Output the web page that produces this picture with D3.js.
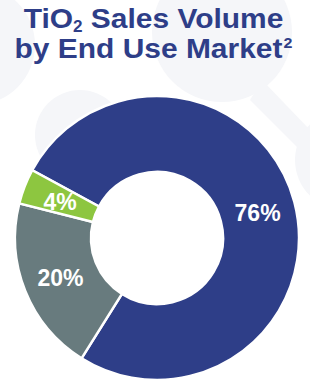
<!DOCTYPE html>
<html>
<head>
<meta charset="utf-8">
<script src="https://cdn.jsdelivr.net/npm/d3@7"></script>
<style>
  body { margin: 0; background: #fff; }
  svg { display: block; font-family: "Liberation Sans", Arial, sans-serif; }
</style>
</head>
<body>
<div class="chart"></div>
<script>
const width = 310, height = 381;

// data
const markets = ["Coatings", "Plastics", "Other"];
const shares = [76, 20, 4];
const colors = ["#2e3e88", "#687b7e", "#8dc640"];

const svg = d3.select('.chart').append('svg')
    .attr("width", width)
    .attr("height", height);

// faint background shapes
const bg = svg.append("g").attr("fill", "#f5f6f9");
bg.append("circle").attr("cx", 222).attr("cy", 32).attr("r", 70);
bg.append("circle").attr("cx", -25).attr("cy", 45).attr("r", 60);
bg.append("path")
    .attr("d", "M262,80 L310,130 L310,160 L250,100 Z");
bg.append("circle").attr("cx", 345).attr("cy", 160).attr("r", 50);
bg.append("circle").attr("cx", 80).attr("cy", 135).attr("r", 45);

// title
const sx = 1.07;
const title = svg.append("text")
    .attr("text-anchor", "middle")
    .attr("fill", "#2e3e88")
    .attr("font-weight", "bold")
    .attr("font-size", 28)
    .attr("transform", `scale(${sx},1)`);

const l1 = title.append("tspan").attr("x", 153.5 / sx).attr("y", 28);
l1.append("tspan").text("TiO");
l1.append("tspan").text("2").attr("font-size", 16).attr("dy", 4);
l1.append("tspan").text(" Sales Volume").attr("dy", -4);

const l2 = title.append("tspan").attr("x", 153.5 / sx).attr("y", 58);
l2.append("tspan").text("by End Use Market");
l2.append("tspan").text("2").attr("font-size", 15).attr("dx", 1).attr("dy", -10);

// donut
const cx = 157, cy = 238;
const outerR = 142, innerR = 66;

const pie = d3.pie()
    .sort(null)
    .startAngle(-61.5 * Math.PI / 180)
    .endAngle((360 - 61.5) * Math.PI / 180);

const arc = d3.arc().innerRadius(innerR).outerRadius(outerR);

const arcs = pie(shares);

const g = svg.append("g").attr("transform", `translate(${cx},${cy})`);

g.selectAll("path")
    .data(arcs)
    .enter()
    .append("path")
    .attr("d", arc)
    .attr("fill", (d, i) => colors[i])
    .attr("stroke", "white")
    .attr("stroke-width", 2.5);

g.selectAll("text.lbl")
    .data(arcs)
    .enter()
    .append("text")
    .attr("class", "lbl")
    .attr("transform", d => `translate(${arc.centroid(d)})`)
    .attr("dy", "0.42em")
    .attr("text-anchor", "middle")
    .attr("fill", "white")
    .attr("font-weight", "bold")
    .attr("font-size", 23)
    .text(d => d.data + "%");
</script>
</body>
</html>
